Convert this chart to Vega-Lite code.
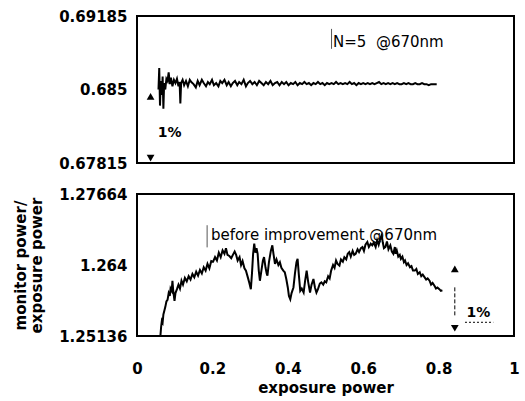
{
  "$schema": "https://vega.github.io/schema/vega-lite/v6.json",
  "padding": {"left": 12, "top": 8, "right": 4, "bottom": 5},
  "spacing": 31,
  "bounds": "flush",
  "config": {
    "view": {"stroke": "black", "strokeWidth": 2},
    "font": "DejaVu Sans",
    "axis": {"grid": false, "ticks": false, "domain": false, "labelFont": "DejaVu Sans", "labelFontSize": 15, "labelFontWeight": "bold", "labelColor": "black", "titleFont": "DejaVu Sans", "titleFontSize": 15, "titleFontWeight": "bold", "titleColor": "black", "labelPadding": 10}
  },
  "datasets": {
    "top": [
      {"x": 0.057, "y": 0.6850}, {"x": 0.059, "y": 0.6870}, {"x": 0.061, "y": 0.6835}, {"x": 0.063, "y": 0.6858},
      {"x": 0.066, "y": 0.6845}, {"x": 0.068, "y": 0.6862}, {"x": 0.070, "y": 0.6832}, {"x": 0.072, "y": 0.6856},
      {"x": 0.075, "y": 0.6850}, {"x": 0.078, "y": 0.6860}, {"x": 0.081, "y": 0.6858}, {"x": 0.084, "y": 0.6866},
      {"x": 0.087, "y": 0.6855}, {"x": 0.090, "y": 0.6861}, {"x": 0.094, "y": 0.6853}, {"x": 0.098, "y": 0.6859},
      {"x": 0.102, "y": 0.6856}, {"x": 0.106, "y": 0.6860}, {"x": 0.110, "y": 0.6853}, {"x": 0.113, "y": 0.6857},
      {"x": 0.115, "y": 0.6837}, {"x": 0.117, "y": 0.6856}, {"x": 0.121, "y": 0.6859}, {"x": 0.125, "y": 0.6854},
      {"x": 0.130, "y": 0.6858}, {"x": 0.135, "y": 0.6853}, {"x": 0.140, "y": 0.6859}, {"x": 0.144, "y": 0.6857},
      {"x": 0.150, "y": 0.6855}, {"x": 0.156, "y": 0.6852}, {"x": 0.161, "y": 0.6858}, {"x": 0.166, "y": 0.6854},
      {"x": 0.172, "y": 0.6859}, {"x": 0.177, "y": 0.6856}, {"x": 0.183, "y": 0.6853}, {"x": 0.188, "y": 0.6857},
      {"x": 0.193, "y": 0.6855}, {"x": 0.199, "y": 0.6859}, {"x": 0.204, "y": 0.6854}, {"x": 0.210, "y": 0.6856},
      {"x": 0.216, "y": 0.6853}, {"x": 0.221, "y": 0.6858}, {"x": 0.226, "y": 0.6856}, {"x": 0.232, "y": 0.6859},
      {"x": 0.238, "y": 0.6854}, {"x": 0.243, "y": 0.6857}, {"x": 0.249, "y": 0.6853}, {"x": 0.254, "y": 0.6856},
      {"x": 0.260, "y": 0.6858}, {"x": 0.266, "y": 0.6854}, {"x": 0.271, "y": 0.6857}, {"x": 0.277, "y": 0.6855},
      {"x": 0.283, "y": 0.6859}, {"x": 0.289, "y": 0.6853}, {"x": 0.294, "y": 0.6856}, {"x": 0.300, "y": 0.6858},
      {"x": 0.306, "y": 0.6855}, {"x": 0.312, "y": 0.6857}, {"x": 0.318, "y": 0.6854}, {"x": 0.324, "y": 0.6858},
      {"x": 0.330, "y": 0.6856}, {"x": 0.336, "y": 0.6854}, {"x": 0.342, "y": 0.6857}, {"x": 0.348, "y": 0.6855},
      {"x": 0.354, "y": 0.6858}, {"x": 0.360, "y": 0.6854}, {"x": 0.366, "y": 0.6856}, {"x": 0.372, "y": 0.6857},
      {"x": 0.378, "y": 0.6854}, {"x": 0.384, "y": 0.6857}, {"x": 0.390, "y": 0.6855}, {"x": 0.396, "y": 0.6857},
      {"x": 0.402, "y": 0.6854}, {"x": 0.408, "y": 0.6856}, {"x": 0.414, "y": 0.6855}, {"x": 0.420, "y": 0.6857},
      {"x": 0.426, "y": 0.6854}, {"x": 0.432, "y": 0.6856}, {"x": 0.438, "y": 0.6855}, {"x": 0.444, "y": 0.6857},
      {"x": 0.450, "y": 0.6855}, {"x": 0.456, "y": 0.6856}, {"x": 0.462, "y": 0.6854}, {"x": 0.468, "y": 0.6856},
      {"x": 0.474, "y": 0.6855}, {"x": 0.480, "y": 0.6857}, {"x": 0.486, "y": 0.6855}, {"x": 0.492, "y": 0.6856},
      {"x": 0.498, "y": 0.6854}, {"x": 0.504, "y": 0.6856}, {"x": 0.510, "y": 0.6855}, {"x": 0.516, "y": 0.6856},
      {"x": 0.522, "y": 0.6855}, {"x": 0.528, "y": 0.6857}, {"x": 0.534, "y": 0.6855}, {"x": 0.540, "y": 0.6856},
      {"x": 0.546, "y": 0.6855}, {"x": 0.552, "y": 0.6856}, {"x": 0.558, "y": 0.6855}, {"x": 0.564, "y": 0.6857},
      {"x": 0.570, "y": 0.6855}, {"x": 0.576, "y": 0.6856}, {"x": 0.582, "y": 0.6854}, {"x": 0.588, "y": 0.6856},
      {"x": 0.594, "y": 0.6855}, {"x": 0.600, "y": 0.6856}, {"x": 0.606, "y": 0.6855}, {"x": 0.612, "y": 0.6856},
      {"x": 0.618, "y": 0.6855}, {"x": 0.624, "y": 0.6856}, {"x": 0.630, "y": 0.6855}, {"x": 0.636, "y": 0.6856},
      {"x": 0.642, "y": 0.6857}, {"x": 0.648, "y": 0.6855}, {"x": 0.654, "y": 0.6856}, {"x": 0.660, "y": 0.6855},
      {"x": 0.666, "y": 0.6856}, {"x": 0.672, "y": 0.6855}, {"x": 0.678, "y": 0.6856}, {"x": 0.684, "y": 0.6855},
      {"x": 0.690, "y": 0.6856}, {"x": 0.696, "y": 0.6855}, {"x": 0.702, "y": 0.6855}, {"x": 0.708, "y": 0.6856},
      {"x": 0.714, "y": 0.6855}, {"x": 0.720, "y": 0.6856}, {"x": 0.726, "y": 0.6855}, {"x": 0.732, "y": 0.6855},
      {"x": 0.738, "y": 0.6856}, {"x": 0.744, "y": 0.6855}, {"x": 0.750, "y": 0.6855}, {"x": 0.756, "y": 0.6856},
      {"x": 0.762, "y": 0.6855}, {"x": 0.768, "y": 0.6855}, {"x": 0.774, "y": 0.6854}, {"x": 0.780, "y": 0.6855},
      {"x": 0.786, "y": 0.6855}, {"x": 0.795, "y": 0.6855}
    ],
    "bottom": [
      {"x": 0.062, "y": 1.2513}, {"x": 0.064, "y": 1.2530}, {"x": 0.066, "y": 1.2541}, {"x": 0.068, "y": 1.2538},
      {"x": 0.070, "y": 1.2552}, {"x": 0.073, "y": 1.2560}, {"x": 0.075, "y": 1.2565}, {"x": 0.078, "y": 1.2575},
      {"x": 0.081, "y": 1.2578}, {"x": 0.084, "y": 1.2590}, {"x": 0.087, "y": 1.2585}, {"x": 0.089, "y": 1.2598},
      {"x": 0.092, "y": 1.2594}, {"x": 0.094, "y": 1.2612}, {"x": 0.096, "y": 1.2595}, {"x": 0.0995, "y": 1.2576},
      {"x": 0.102, "y": 1.2590}, {"x": 0.106, "y": 1.2597}, {"x": 0.110, "y": 1.2605}, {"x": 0.114, "y": 1.2598},
      {"x": 0.118, "y": 1.2612}, {"x": 0.122, "y": 1.2605}, {"x": 0.127, "y": 1.2617}, {"x": 0.132, "y": 1.2611},
      {"x": 0.137, "y": 1.2620}, {"x": 0.142, "y": 1.2614}, {"x": 0.147, "y": 1.2624}, {"x": 0.152, "y": 1.2618},
      {"x": 0.157, "y": 1.2628}, {"x": 0.162, "y": 1.2621}, {"x": 0.167, "y": 1.2631}, {"x": 0.172, "y": 1.2625},
      {"x": 0.177, "y": 1.2636}, {"x": 0.182, "y": 1.2630}, {"x": 0.187, "y": 1.2642}, {"x": 0.192, "y": 1.2634},
      {"x": 0.197, "y": 1.2647}, {"x": 0.202, "y": 1.2646}, {"x": 0.207, "y": 1.2654}, {"x": 0.212, "y": 1.2648},
      {"x": 0.217, "y": 1.2662}, {"x": 0.222, "y": 1.2654}, {"x": 0.227, "y": 1.2666}, {"x": 0.232, "y": 1.2660},
      {"x": 0.236, "y": 1.2670}, {"x": 0.240, "y": 1.2658}, {"x": 0.245, "y": 1.2656}, {"x": 0.250, "y": 1.2652},
      {"x": 0.255, "y": 1.2659}, {"x": 0.259, "y": 1.2664}, {"x": 0.263, "y": 1.2658}, {"x": 0.267, "y": 1.2648},
      {"x": 0.272, "y": 1.2654}, {"x": 0.276, "y": 1.2640}, {"x": 0.280, "y": 1.2647}, {"x": 0.285, "y": 1.2634},
      {"x": 0.289, "y": 1.2630}, {"x": 0.294, "y": 1.2618}, {"x": 0.298, "y": 1.2608}, {"x": 0.302, "y": 1.2597},
      {"x": 0.305, "y": 1.2625}, {"x": 0.308, "y": 1.2660}, {"x": 0.311, "y": 1.2678}, {"x": 0.314, "y": 1.2662},
      {"x": 0.317, "y": 1.2670}, {"x": 0.320, "y": 1.2660}, {"x": 0.323, "y": 1.2630}, {"x": 0.326, "y": 1.2612},
      {"x": 0.330, "y": 1.2630}, {"x": 0.334, "y": 1.2648}, {"x": 0.337, "y": 1.2654}, {"x": 0.341, "y": 1.2635},
      {"x": 0.344, "y": 1.2625}, {"x": 0.346, "y": 1.2621}, {"x": 0.350, "y": 1.2645}, {"x": 0.355, "y": 1.2665},
      {"x": 0.359, "y": 1.2675}, {"x": 0.362, "y": 1.2660}, {"x": 0.366, "y": 1.2642}, {"x": 0.370, "y": 1.2650},
      {"x": 0.375, "y": 1.2640}, {"x": 0.379, "y": 1.2645}, {"x": 0.383, "y": 1.2635}, {"x": 0.388, "y": 1.2630},
      {"x": 0.392, "y": 1.2627}, {"x": 0.396, "y": 1.2615}, {"x": 0.400, "y": 1.2600}, {"x": 0.403, "y": 1.2585},
      {"x": 0.4066, "y": 1.2579}, {"x": 0.410, "y": 1.2590}, {"x": 0.415, "y": 1.2600}, {"x": 0.419, "y": 1.2625},
      {"x": 0.423, "y": 1.2645}, {"x": 0.426, "y": 1.2651}, {"x": 0.429, "y": 1.2625}, {"x": 0.433, "y": 1.2594},
      {"x": 0.437, "y": 1.2598}, {"x": 0.442, "y": 1.2591}, {"x": 0.446, "y": 1.2612}, {"x": 0.450, "y": 1.2630},
      {"x": 0.454, "y": 1.2610}, {"x": 0.459, "y": 1.2591}, {"x": 0.463, "y": 1.2605}, {"x": 0.468, "y": 1.2615},
      {"x": 0.472, "y": 1.2600}, {"x": 0.476, "y": 1.2591}, {"x": 0.480, "y": 1.2597}, {"x": 0.485, "y": 1.2607},
      {"x": 0.489, "y": 1.2609}, {"x": 0.494, "y": 1.2605}, {"x": 0.498, "y": 1.2611}, {"x": 0.502, "y": 1.2609},
      {"x": 0.507, "y": 1.2620}, {"x": 0.511, "y": 1.2616}, {"x": 0.515, "y": 1.2630}, {"x": 0.520, "y": 1.2640},
      {"x": 0.524, "y": 1.2635}, {"x": 0.528, "y": 1.2648}, {"x": 0.532, "y": 1.2642}, {"x": 0.537, "y": 1.2639},
      {"x": 0.541, "y": 1.2650}, {"x": 0.546, "y": 1.2646}, {"x": 0.550, "y": 1.2654}, {"x": 0.555, "y": 1.2650},
      {"x": 0.559, "y": 1.2660}, {"x": 0.563, "y": 1.2663}, {"x": 0.567, "y": 1.2655}, {"x": 0.572, "y": 1.2665},
      {"x": 0.576, "y": 1.2658}, {"x": 0.580, "y": 1.2660}, {"x": 0.585, "y": 1.2668}, {"x": 0.589, "y": 1.2663},
      {"x": 0.594, "y": 1.2670}, {"x": 0.598, "y": 1.2672}, {"x": 0.602, "y": 1.2665}, {"x": 0.606, "y": 1.2676},
      {"x": 0.611, "y": 1.2681}, {"x": 0.615, "y": 1.2672}, {"x": 0.620, "y": 1.2678}, {"x": 0.624, "y": 1.2675},
      {"x": 0.628, "y": 1.2680}, {"x": 0.633, "y": 1.2672}, {"x": 0.637, "y": 1.2684}, {"x": 0.641, "y": 1.2676},
      {"x": 0.645, "y": 1.2686}, {"x": 0.649, "y": 1.2693}, {"x": 0.652, "y": 1.2680}, {"x": 0.655, "y": 1.2670},
      {"x": 0.659, "y": 1.2672}, {"x": 0.663, "y": 1.2682}, {"x": 0.667, "y": 1.2668}, {"x": 0.672, "y": 1.2675},
      {"x": 0.676, "y": 1.2664}, {"x": 0.680, "y": 1.2660}, {"x": 0.684, "y": 1.2672}, {"x": 0.686, "y": 1.2660},
      {"x": 0.689, "y": 1.2666}, {"x": 0.693, "y": 1.2655}, {"x": 0.697, "y": 1.2658}, {"x": 0.700, "y": 1.2651},
      {"x": 0.704, "y": 1.2655}, {"x": 0.708, "y": 1.2645}, {"x": 0.711, "y": 1.2648}, {"x": 0.715, "y": 1.2640},
      {"x": 0.719, "y": 1.2643}, {"x": 0.724, "y": 1.2636}, {"x": 0.728, "y": 1.2638}, {"x": 0.732, "y": 1.2630},
      {"x": 0.737, "y": 1.2630}, {"x": 0.741, "y": 1.2633}, {"x": 0.745, "y": 1.2624}, {"x": 0.750, "y": 1.2627},
      {"x": 0.754, "y": 1.2620}, {"x": 0.758, "y": 1.2623}, {"x": 0.763, "y": 1.2618}, {"x": 0.767, "y": 1.2614},
      {"x": 0.771, "y": 1.2616}, {"x": 0.776, "y": 1.2612}, {"x": 0.780, "y": 1.2605}, {"x": 0.784, "y": 1.2608},
      {"x": 0.789, "y": 1.2603}, {"x": 0.793, "y": 1.2598}, {"x": 0.797, "y": 1.2600}, {"x": 0.802, "y": 1.2597},
      {"x": 0.806, "y": 1.2594}, {"x": 0.810, "y": 1.2595}
    ],
    "topLabel": [
      {"x": 0.52, "y": 0.68944, "label": "N=5\u00a0\u00a0@670nm"}
    ],
    "topPct": [
      {"x": 0.055, "y": 0.68092, "label": "1%"}
    ],
    "topTri": [
      {"x": 0.036, "y": 0.68435, "shape": "triangle-up"},
      {"x": 0.036, "y": 0.67861, "shape": "triangle-down"}
    ],
    "topBar": [
      {"x": 0.516, "y": 0.69065, "y2": 0.68879}
    ],
    "bottomLabel": [
      {"x": 0.196, "y": 1.26938, "label": "before improvement @670nm"}
    ],
    "bottomPct": [
      {"x": 0.874, "y": 1.25554, "label": "1%"}
    ],
    "bottomTri": [
      {"x": 0.843, "y": 1.26332, "shape": "triangle-up"},
      {"x": 0.843, "y": 1.25274, "shape": "triangle-down"}
    ],
    "bottomBar": [
      {"x": 0.186, "y": 1.27108, "y2": 1.26714}
    ],
    "bottomDash": [
      {"x": 0.843, "y": 1.26002, "y2": 1.25494}
    ],
    "bottomUnder": [
      {"x": 0.87, "x2": 0.945, "y": 1.25380}
    ]
  },
  "vconcat": [
    {
      "width": 377,
      "height": 147,
      "encoding": {
        "x": {"field": "x", "type": "quantitative", "scale": {"domain": [0, 1], "nice": false, "zero": false}, "axis": null},
        "y": {"field": "y", "type": "quantitative", "scale": {"domain": [0.67815, 0.69185], "nice": false, "zero": false},
              "axis": {"values": [0.67815, 0.685, 0.69185], "labelExpr": "toString(datum.value)", "title": null, "labelFlush": false}}
      },
      "layer": [
        {"data": {"name": "top"}, "mark": {"type": "line", "color": "black", "strokeWidth": 2, "clip": true}},
        {"data": {"name": "topBar"}, "mark": {"type": "rule", "color": "#555", "strokeWidth": 1}, "encoding": {"y2": {"field": "y2"}}},
        {"data": {"name": "topTri"}, "mark": {"type": "point", "filled": true, "color": "black", "size": 60, "opacity": 1},
         "encoding": {"shape": {"field": "shape", "type": "nominal", "scale": null}}},
        {"data": {"name": "topLabel"}, "mark": {"type": "text", "align": "left", "baseline": "middle", "color": "black", "font": "DejaVu Sans", "fontSize": 15},
         "encoding": {"text": {"field": "label"}}},
        {"data": {"name": "topPct"}, "mark": {"type": "text", "align": "left", "baseline": "middle", "color": "black", "font": "DejaVu Sans", "fontSize": 14, "fontWeight": "bold"},
         "encoding": {"text": {"field": "label"}}}
      ]
    },
    {
      "width": 377,
      "height": 142,
      "encoding": {
        "x": {"field": "x", "type": "quantitative", "scale": {"domain": [0, 1], "nice": false, "zero": false},
              "axis": {"values": [0, 0.2, 0.4, 0.6, 0.8, 1], "labelExpr": "toString(datum.value)", "labelFlush": false, "labelPadding": 25, "title": "exposure power", "titlePadding": 4}},
        "y": {"field": "y", "type": "quantitative", "scale": {"domain": [1.25136, 1.27664], "nice": false, "zero": false},
              "axis": {"values": [1.25136, 1.264, 1.27664], "labelExpr": "toString(datum.value)", "labelFlush": false, "title": ["monitor power/", "exposure power"], "titlePadding": 14, "titleLineHeight": 16}}
      },
      "layer": [
        {"data": {"name": "bottom"}, "mark": {"type": "line", "color": "black", "strokeWidth": 2, "clip": true}},
        {"data": {"name": "bottomBar"}, "mark": {"type": "rule", "color": "#555", "strokeWidth": 1}, "encoding": {"y2": {"field": "y2"}}},
        {"data": {"name": "bottomDash"}, "mark": {"type": "rule", "color": "black", "strokeWidth": 1, "strokeDash": [4, 2]}, "encoding": {"y2": {"field": "y2"}}},
        {"data": {"name": "bottomUnder"}, "mark": {"type": "rule", "color": "black", "strokeWidth": 1, "strokeDash": [2, 2]}, "encoding": {"x2": {"field": "x2"}}},
        {"data": {"name": "bottomTri"}, "mark": {"type": "point", "filled": true, "color": "black", "size": 60, "opacity": 1},
         "encoding": {"shape": {"field": "shape", "type": "nominal", "scale": null}}},
        {"data": {"name": "bottomLabel"}, "mark": {"type": "text", "align": "left", "baseline": "middle", "color": "black", "font": "DejaVu Sans", "fontSize": 15},
         "encoding": {"text": {"field": "label"}}},
        {"data": {"name": "bottomPct"}, "mark": {"type": "text", "align": "left", "baseline": "middle", "color": "black", "font": "DejaVu Sans", "fontSize": 14, "fontWeight": "bold"},
         "encoding": {"text": {"field": "label"}}}
      ]
    }
  ]
}
